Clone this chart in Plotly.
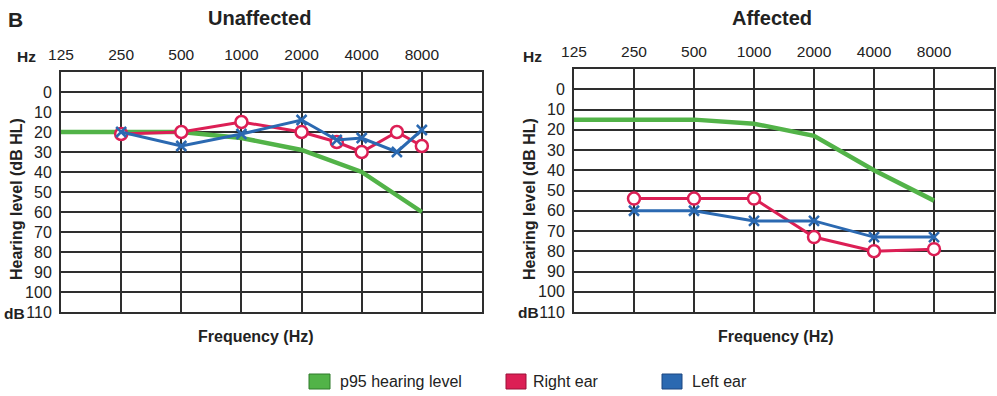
import math
import plotly.graph_objects as go

# ---------------- data ----------------
freq_ticks = [125, 250, 500, 1000, 2000, 4000, 8000]
freq_tick_labels = ["125", "250", "500", "1000", "2000", "4000", "8000"]
db_ticks = [0, 10, 20, 30, 40, 50, 60, 70, 80, 90, 100, 110]
db_tick_labels = [str(v) for v in db_ticks]

p95_freq = [125, 250, 500, 1000, 2000, 4000, 8000]

# Unaffected panel
unaff_p95 = [20, 20, 20, 23, 29, 40, 60]
unaff_freq = [250, 500, 1000, 2000, 3000, 4000, 6000, 8000]
unaff_right = [21, 20, 15, 20, 25, 30, 20, 27]
unaff_left = [20, 27, 21, 14, 24, 23, 30, 19]

# Affected panel
aff_p95 = [15, 15, 15, 17, 23, 40, 55]
aff_freq = [250, 500, 1000, 2000, 4000, 8000]
aff_right = [54, 54, 54, 73, 80, 79]
aff_left = [60, 60, 65, 65, 73, 73]

series_names = ["p95 hearing level", "Right ear", "Left ear"]

# ---------------- style ----------------
GREEN = "#52b348"
RED = "#dc1f55"
BLUE = "#2b69b1"
GRID = "#2e2e2e"
FONT = "Liberation Sans, Arial, sans-serif"
W, H = 997, 396

fig = go.Figure()


def add_panel(xa, ya, p95, fq, right, left):
    fig.add_trace(go.Scatter(x=p95_freq, y=p95, mode="lines", xaxis=xa, yaxis=ya,
                             line=dict(color=GREEN, width=4.5), name=series_names[0],
                             showlegend=False))
    fig.add_trace(go.Scatter(x=fq, y=right, mode="lines+markers", xaxis=xa, yaxis=ya,
                             line=dict(color=RED, width=3),
                             marker=dict(symbol="circle", size=12, color="white",
                                         line=dict(color=RED, width=2.5)),
                             name=series_names[1], showlegend=False))
    fig.add_trace(go.Scatter(x=fq, y=left, mode="lines+markers", xaxis=xa, yaxis=ya,
                             line=dict(color=BLUE, width=3),
                             marker=dict(symbol="x-thin", size=10, color=BLUE,
                                         line=dict(color=BLUE, width=2.5)),
                             name=series_names[2], showlegend=False))


add_panel("x", "y", unaff_p95, unaff_freq, unaff_right, unaff_left)
add_panel("x2", "y2", aff_p95, aff_freq, aff_right, aff_left)

xr = [math.log10(125), math.log10(16000)]

xcommon = dict(type="log", range=xr, side="top", tickvals=freq_ticks,
               ticktext=freq_tick_labels, showgrid=True, gridcolor=GRID, gridwidth=2,
               showline=True, mirror=True, linecolor=GRID, linewidth=2, ticks="",
               zeroline=False, tickfont=dict(family=FONT, size=15.5, color="#222"),
               ticklabelstandoff=4, fixedrange=True, automargin=False)
ycommon = dict(range=[110, -10], tickvals=db_ticks, ticktext=db_tick_labels,
               showgrid=True, gridcolor=GRID, gridwidth=2, showline=True, mirror=True,
               linecolor=GRID, linewidth=2, ticks="", zeroline=False,
               tickfont=dict(family=FONT, size=16, color="#222"), ticklabelstandoff=4,
               fixedrange=True, automargin=False)

fig.update_layout(
    template="none",
    width=W, height=H, margin=dict(l=0, r=0, t=0, b=0, pad=0),
    paper_bgcolor="white", plot_bgcolor="white", showlegend=False,
    xaxis=dict(xcommon, domain=[61 / W, 482 / W], anchor="y"),
    yaxis=dict(ycommon, domain=[1 - 312 / H, 1 - 72 / H], anchor="x"),
    xaxis2=dict(xcommon, domain=[574 / W, 994 / W], anchor="y2"),
    yaxis2=dict(ycommon, domain=[1 - 312 / H, 1 - 69 / H], anchor="x2"),
    font=dict(family=FONT, color="#222"),
)


def ann(text, x, y, size, bold=True, angle=0, xanchor="center"):
    fig.add_annotation(text=f"<b>{text}</b>" if bold else text, x=x / W, y=1 - y / H,
                       xref="paper", yref="paper", showarrow=False, textangle=angle,
                       xanchor=xanchor, yanchor="middle",
                       font=dict(family=FONT, size=size, color="#222"))


ann("B", 15, 19, 21)
ann("Unaffected", 259, 18, 20)
ann("Affected", 772, 18, 20)
ann("Hz", 26, 57, 15.5)
ann("Hz", 532, 57, 15.5)
ann("dB", 14, 313, 15.5)
ann("dB", 528, 312, 15.5)
ann("Hearing level (dB HL)", 17, 199, 16, angle=-90)
ann("Hearing level (dB HL)", 530, 199, 16, angle=-90)
ann("Frequency (Hz)", 256, 336, 16)
ann("Frequency (Hz)", 776, 336, 16)

# legend (swatches + labels)
legend_items = [(309, 330, 338, GREEN, "#2f7a2a"), (506, 526, 531, RED, "#9a1038"),
                (662, 682, 690, BLUE, "#1c4680")]
for (x0, x1, tx, col, edge), name in zip(legend_items, series_names):
    fig.add_shape(type="rect", xref="paper", yref="paper", x0=x0 / W, x1=x1 / W,
                  y0=1 - 389 / H, y1=1 - 374 / H, fillcolor=col,
                  line=dict(color=edge, width=1))
    fig.add_annotation(text=name, x=tx / W, y=1 - 381.5 / H, xref="paper", yref="paper",
                       showarrow=False, xanchor="left", yanchor="middle",
                       font=dict(family=FONT, size=16, color="#222"))

fig.write_html("out.html", post_script="document.body.style.margin='0';",
               config={"displayModeBar": False})
